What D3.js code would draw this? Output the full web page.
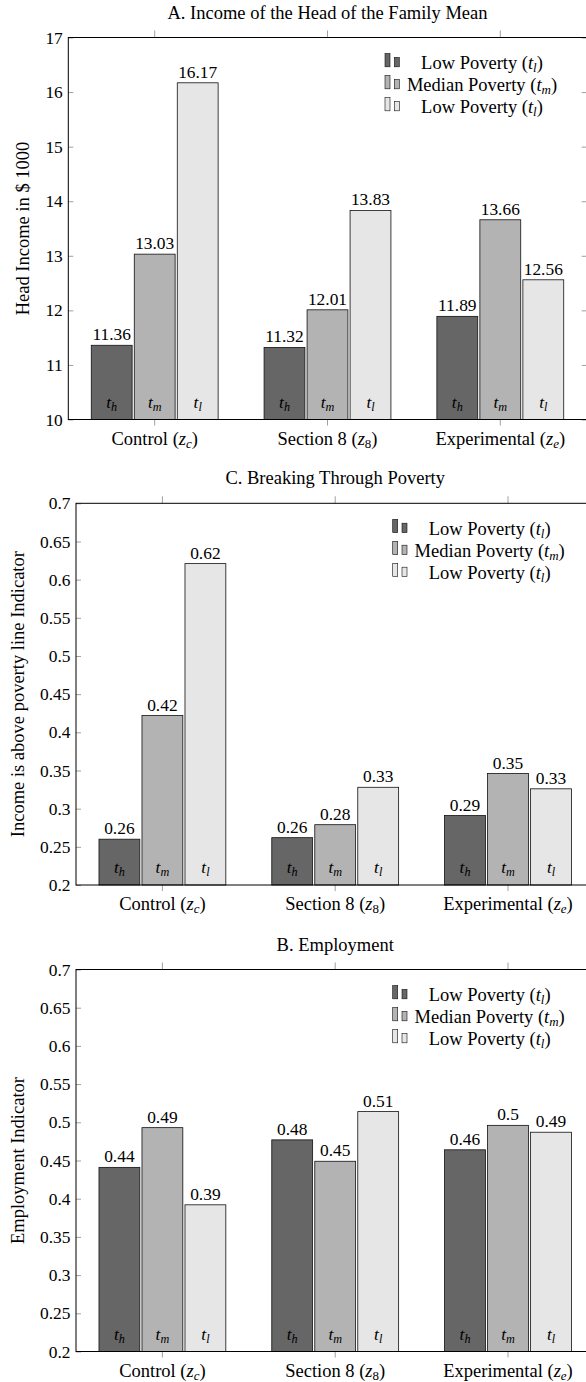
<!DOCTYPE html>
<html>
<head>
<meta charset="utf-8">
<script src="https://cdn.jsdelivr.net/npm/d3@7"></script>
<style>
  body { margin: 0; background: #fff; }
  text { font-family: "Liberation Serif", "Times New Roman", serif; fill: #000; }
</style>
</head>
<body>
<script>
// ---- data ----
const groups = ["Control", "Section 8", "Experimental"]
const groupSubs = ["c", "8", "e"]
const seriesKeys = ["h", "m", "l"]
const legendNames = ["Low Poverty", "Median Poverty", "Low Poverty"]
const legendSubs = ["l", "m", "l"]
const seriesColors = ["#666666", "#b3b3b3", "#e6e6e6"]

// A. income of the head of the family (in $1000), per group
const incomeHigh = [11.36, 11.32, 11.89]
const incomeMedian = [13.03, 12.01, 13.66]
const incomeLow = [16.17, 13.83, 12.56]
const incomeTicks = [10, 11, 12, 13, 14, 15, 16, 17]

// C. breaking through poverty
const povertyHigh = [0.26, 0.262, 0.291]
const povertyMedian = [0.422, 0.279, 0.346]
const povertyLow = [0.621, 0.328, 0.326]

// B. employment
const employHigh = [0.441, 0.477, 0.464]
const employMedian = [0.493, 0.449, 0.496]
const employLow = [0.392, 0.514, 0.487]

const shareTicks = [0.2, 0.25, 0.3, 0.35, 0.4, 0.45, 0.5, 0.55, 0.6, 0.65, 0.7]

// ---- layout ----
const W = 586, H = 1382
const plotW = 518.4
const wordSize = 18.5, numSize = 17.4
const serif = "Liberation Serif, Times New Roman, serif"

const svg = d3.select("body").append("svg")
    .attr("width", W)
    .attr("height", H)
    .attr("font-family", serif)

const panels = [
    { title: "A. Income of the Head of the Family Mean", ylabel: "Head Income in $ 1000",
      values: [incomeHigh, incomeMedian, incomeLow], ticks: incomeTicks,
      left: 68.3, top: 37.5, height: 382 },
    { title: "C. Breaking Through Poverty", ylabel: "Income is above poverty line Indicator",
      values: [povertyHigh, povertyMedian, povertyLow], ticks: shareTicks,
      left: 76, top: 503.3, height: 381.7 },
    { title: "B. Employment", ylabel: "Employment Indicator",
      values: [employHigh, employMedian, employLow], ticks: shareTicks,
      left: 76, top: 969.5, height: 382 }
]

const fmt = d3.format(".2~f")

// text with italic / subscript pieces
function mathText(sel, parts) {
    let shift = 0
    parts.forEach(p => {
        const ts = sel.append("tspan").text(p.t)
        if (p.it) ts.style("font-style", "italic")
        const want = p.sub ? 3 : 0
        if (want !== shift) { ts.attr("dy", want - shift); shift = want }
        if (p.sub) ts.style("font-size", "0.7em")
    })
}

function drawPanel(p) {
    const g = svg.append("g").attr("transform", `translate(${p.left},${p.top})`)

    const x0 = d3.scaleBand().domain(groups).range([0, plotW])
    const x1 = d3.scaleBand().domain(seriesKeys).range([-64.5, 64.5])
        .paddingInner(0.05).paddingOuter(0.025)
    const y = d3.scaleLinear().domain(d3.extent(p.ticks)).range([p.height, 0])
    const cx = grp => x0(grp) + x0.bandwidth() / 2

    // axes (ticks only)
    const yAxis = g.append("g")
        .call(d3.axisLeft(y).tickValues(p.ticks).tickSize(-5).tickPadding(5.5).tickFormat(d => d3.format("~g")(d)))
    g.append("g").attr("transform", `translate(${plotW},0)`)
        .call(d3.axisRight(y).tickValues(p.ticks).tickSize(-5).tickFormat(""))
    g.append("g").attr("transform", `translate(0,${p.height})`)
        .call(d3.axisBottom(x0).tickSize(6).tickFormat(""))
    g.append("g")
        .call(d3.axisTop(x0).tickSize(7).tickFormat(""))
    g.selectAll(".domain").remove()
    g.selectAll(".tick line").attr("stroke", "#888").attr("stroke-width", 0.8)
    yAxis.attr("font-family", serif)
    yAxis.selectAll("text")
        .attr("font-size", numSize)
        .attr("fill", "#000")

    // bars
    const rows = []
    groups.forEach((grp, gi) => {
        seriesKeys.forEach((s, si) => {
            rows.push({ grp: grp, s: s, si: si, v: p.values[si][gi] })
        })
    })
    const y0 = y.domain()[0]
    const bars = g.append("g").selectAll("g").data(rows).join("g")
    bars.append("rect")
        .attr("x", d => cx(d.grp) + x1(d.s))
        .attr("y", d => y(d.v))
        .attr("width", x1.bandwidth())
        .attr("height", d => y(y0) - y(d.v))
        .attr("fill", d => seriesColors[d.si])
        .attr("stroke", "#111")
        .attr("stroke-width", 0.8)
    bars.append("text")
        .attr("x", d => cx(d.grp) + x1(d.s) + x1.bandwidth() / 2)
        .attr("y", d => y(d.v) - 5)
        .attr("text-anchor", "middle")
        .attr("font-size", numSize)
        .text(d => fmt(d.v))
    bars.append("text")
        .attr("x", d => cx(d.grp) + x1(d.s) + x1.bandwidth() / 2)
        .attr("y", p.height - 12)
        .attr("text-anchor", "middle")
        .attr("font-size", numSize)
        .each(function (d) {
            mathText(d3.select(this), [{ t: "t", it: true }, { t: d.s, it: true, sub: true }])
        })

    // frame
    g.append("rect")
        .attr("width", plotW)
        .attr("height", p.height)
        .attr("fill", "none")
        .attr("stroke", "#000")
        .attr("stroke-width", 1)

    // x labels
    groups.forEach((grp, gi) => {
        const t = g.append("text")
            .attr("x", cx(grp))
            .attr("y", p.height + 25)
            .attr("text-anchor", "middle")
            .attr("font-size", wordSize)
        const sub = groupSubs[gi]
        mathText(t, [{ t: grp + " (" }, { t: "z", it: true },
            { t: sub, it: isNaN(+sub), sub: true }, { t: ")" }])
    })

    // title
    g.append("text")
        .attr("x", plotW / 2)
        .attr("y", -19)
        .attr("text-anchor", "middle")
        .attr("font-size", wordSize)
        .text(p.title)

    // y label, placed left of the tick labels
    const bb = yAxis.node().getBBox()
    g.append("text")
        .attr("transform", `translate(${bb.x - 16.5},${p.height / 2}) rotate(-90)`)
        .attr("text-anchor", "middle")
        .attr("font-size", wordSize)
        .text(p.ylabel)

    // legend
    const lg = g.append("g").attr("transform", "translate(316.7,0)")
    legendNames.forEach((name, i) => {
        const rc = 26 + i * 22
        lg.append("rect")
            .attr("x", 0).attr("y", rc - 10)
            .attr("width", 5).attr("height", 13.3)
            .attr("fill", seriesColors[i]).attr("stroke", "#111").attr("stroke-width", 0.6)
        lg.append("rect")
            .attr("x", 9.3).attr("y", rc - 6.1)
            .attr("width", 5).attr("height", 9.4)
            .attr("fill", seriesColors[i]).attr("stroke", "#111").attr("stroke-width", 0.6)
        const t = lg.append("text")
            .attr("x", 97)
            .attr("y", rc + 5.5)
            .attr("text-anchor", "middle")
            .attr("font-size", wordSize)
        mathText(t, [{ t: name + " (" }, { t: "t", it: true },
            { t: legendSubs[i], it: true, sub: true }, { t: ")" }])
    })
}

panels.forEach(drawPanel)
</script>
</body>
</html>
